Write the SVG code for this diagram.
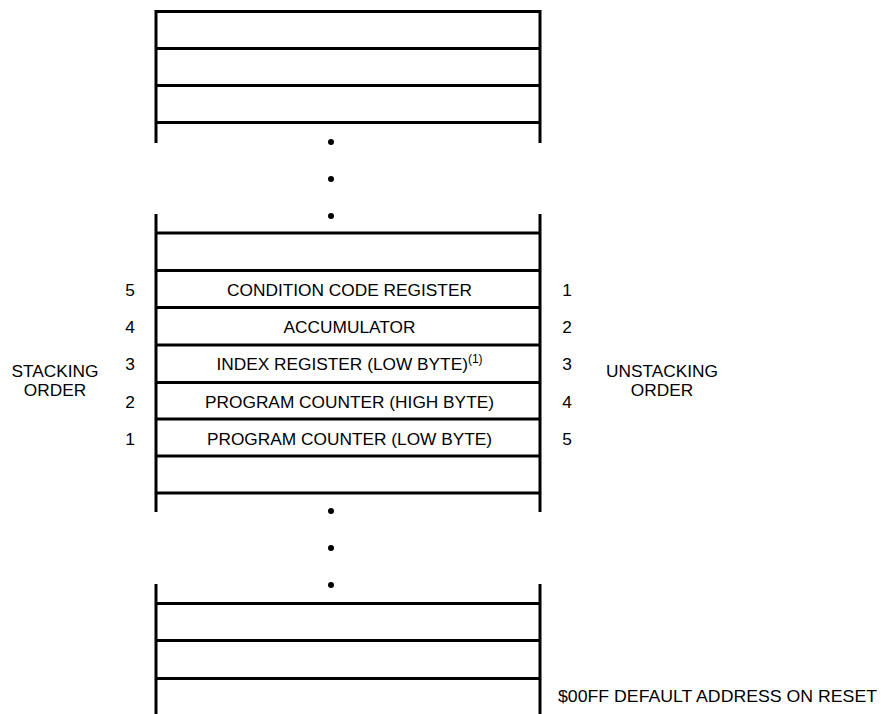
<svg xmlns="http://www.w3.org/2000/svg" width="881" height="714" viewBox="0 0 881 714">
<style>
.ln{stroke:#000;stroke-width:3;fill:none}
.t{font-family:"Liberation Sans",Arial,sans-serif;font-size:17.3px;fill:#000}
.c{text-anchor:middle}
.dot{fill:#000}
</style>
<rect width="881" height="714" fill="#fff"/>
<g id="stack-top">
<path class="ln" d="M156 10V143M540 10V143M154.5 11.5H541.5M156 48.5H540M156 85.5H540M156 122.5H540"/>
</g>
<g id="ellipsis-1">
<circle class="dot" cx="331" cy="142" r="3"/>
<circle class="dot" cx="331" cy="179" r="3"/>
<circle class="dot" cx="331" cy="216" r="3"/>
</g>
<g id="stack-middle">
<path class="ln" d="M156 214V512M540 214V512M156 233H540M156 270.5H540M156 307.5H540M156 345H540M156 382.5H540M156 419H540M156 456H540M156 493H540"/>
</g>
<g id="row-ccr"><text class="t c" x="349.5" y="296">CONDITION CODE REGISTER</text></g>
<g id="row-acc"><text class="t c" x="349.5" y="333">ACCUMULATOR</text></g>
<g id="row-ix"><text class="t c" x="349.5" y="370">INDEX REGISTER (LOW BYTE)<tspan font-size="12" dy="-7">(1)</tspan></text></g>
<g id="row-pch"><text class="t c" x="349.5" y="408">PROGRAM COUNTER (HIGH BYTE)</text></g>
<g id="row-pcl"><text class="t c" x="349.5" y="445">PROGRAM COUNTER (LOW BYTE)</text></g>
<g id="stacking-order">
<text class="t c" x="130" y="296">5</text>
<text class="t c" x="130" y="333">4</text>
<text class="t c" x="130" y="370">3</text>
<text class="t c" x="130" y="408">2</text>
<text class="t c" x="130" y="445">1</text>
<text class="t c" x="55" y="377">STACKING</text>
<text class="t c" x="55" y="396">ORDER</text>
</g>
<g id="unstacking-order">
<text class="t c" x="567" y="296">1</text>
<text class="t c" x="567" y="333">2</text>
<text class="t c" x="567" y="370">3</text>
<text class="t c" x="567" y="408">4</text>
<text class="t c" x="567" y="445">5</text>
<text class="t c" x="662" y="377">UNSTACKING</text>
<text class="t c" x="662" y="396">ORDER</text>
</g>
<g id="ellipsis-2">
<circle class="dot" cx="331" cy="511" r="3"/>
<circle class="dot" cx="331" cy="548" r="3"/>
<circle class="dot" cx="331" cy="585" r="3"/>
</g>
<g id="stack-bottom">
<path class="ln" d="M156 584V714M540 584V714M156 603.5H540M156 640.5H540M156 678.5H540"/>
</g>
<g id="reset-label"><text class="t" x="558" y="702" textLength="319" lengthAdjust="spacingAndGlyphs">$00FF DEFAULT ADDRESS ON RESET</text></g>
</svg>
